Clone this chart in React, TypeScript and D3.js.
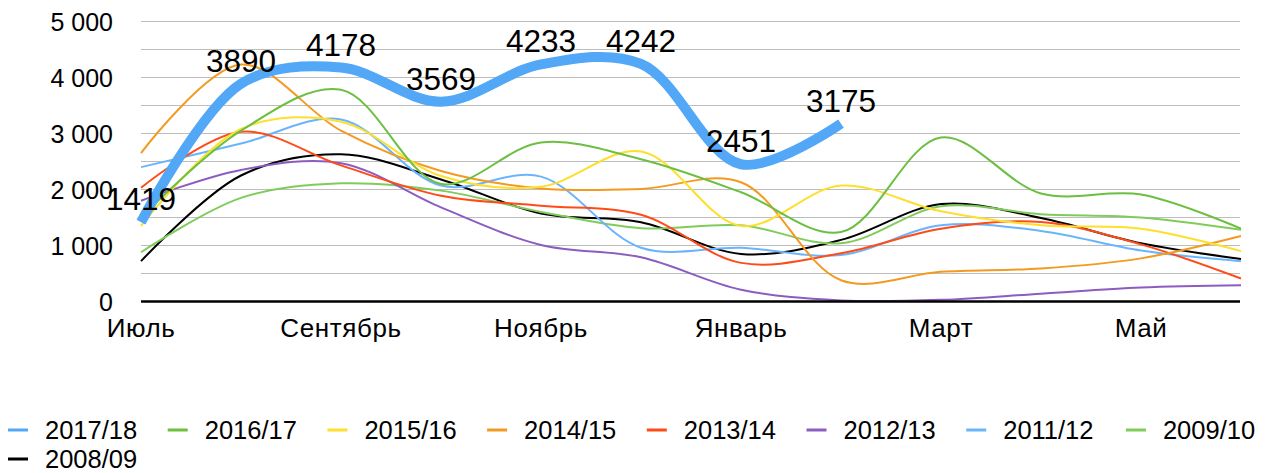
import React, { useEffect, useRef } from 'react';
import * as d3 from 'd3';

const months = ['Июль', 'Август', 'Сентябрь', 'Октябрь', 'Ноябрь', 'Декабрь', 'Январь', 'Февраль', 'Март', 'Апрель', 'Май', 'Июнь'];
const shownMonths = ['Июль', 'Сентябрь', 'Ноябрь', 'Январь', 'Март', 'Май'];
const yTicks = [0, 1000, 2000, 3000, 4000, 5000];
const gridValues = [500, 1000, 1500, 2000, 2500, 3000, 3500, 4000, 4500, 5000];

const seriesNames = ['2017/18', '2016/17', '2015/16', '2014/15', '2013/14', '2012/13', '2011/12', '2009/10', '2008/09'];
const seriesColors = ['#52a8f6', '#6cbf41', '#fddf2c', '#f39a22', '#ff4b18', '#8c5cc0', '#6ab4fd', '#80cc5a', '#000000'];

const v2017 = [1419, 3890, 4178, 3569, 4233, 4242, 2451, 3175];
const v2016 = [1500, 3050, 3780, 2100, 2840, 2540, 1950, 1240, 2930, 1930, 1910, 1300];
const v2015 = [1350, 3080, 3210, 2240, 2050, 2680, 1350, 2070, 1610, 1360, 1300, 900];
const v2014 = [2650, 4230, 3050, 2330, 2020, 2010, 2130, 380, 530, 590, 770, 1170];
const v2013 = [2030, 3030, 2430, 1890, 1710, 1550, 690, 860, 1300, 1420, 1020, 410];
const v2012 = [1800, 2350, 2470, 1680, 1010, 790, 210, 20, 30, 140, 250, 290];
const v2011 = [2400, 2820, 3250, 2070, 2230, 960, 960, 830, 1360, 1260, 910, 720];
const v2009 = [880, 1850, 2110, 1980, 1600, 1310, 1360, 1040, 1700, 1560, 1500, 1280];
const v2008 = [720, 2250, 2630, 2180, 1570, 1415, 850, 1100, 1740, 1490, 1040, 760];

const seriesValues = [v2017, v2016, v2015, v2014, v2013, v2012, v2011, v2009, v2008];

const W = 1271, H = 473;
const FONT = '"Liberation Sans", Arial, Helvetica, sans-serif';

const App = () => {
  const ref = useRef<SVGSVGElement>(null);

  useEffect(() => {
    const svg = d3.select(ref.current);
    svg.selectAll('*').remove();

    const x = d3.scalePoint<string>().domain(months).range([141, 1241]);
    const y = d3.scaleLinear().domain([0, 5000]).range([301.5, 21.5]);

    // gridlines
    svg.append('g')
      .selectAll('line')
      .data(gridValues)
      .join('line')
      .attr('x1', 141).attr('x2', 1240)
      .attr('y1', d => y(d)).attr('y2', d => y(d))
      .attr('stroke', '#bdbdbd')
      .attr('stroke-width', 1);

    // y labels
    const fmt = (d: number) => d3.format(',')(d).replace(/,/g, ' ');
    svg.append('g')
      .selectAll('text')
      .data(yTicks)
      .join('text')
      .attr('x', 113)
      .attr('y', d => y(d))
      .attr('text-anchor', 'end')
      .attr('dominant-baseline', 'central')
      .attr('font-family', FONT)
      .attr('font-size', 25)
      .attr('fill', '#000')
      .text(d => fmt(d));

    // x labels
    svg.append('g')
      .selectAll('text')
      .data(shownMonths)
      .join('text')
      .attr('x', d => x(d) as number)
      .attr('y', 337)
      .attr('text-anchor', 'middle')
      .attr('font-family', FONT)
      .attr('font-size', 26)
      .attr('letter-spacing', 0.6)
      .attr('fill', '#000')
      .text(d => d);

    // lines, oldest first so 2017/18 ends up on top
    const line = d3.line<number>()
      .x((_, i) => x(months[i]) as number)
      .y(d => y(d))
      .curve(d3.curveCatmullRom.alpha(0.5));

    const order = d3.range(seriesNames.length).reverse();
    svg.append('g')
      .selectAll('path')
      .data(order)
      .join('path')
      .attr('d', i => line(seriesValues[i]))
      .attr('fill', 'none')
      .attr('stroke', i => seriesColors[i])
      .attr('stroke-width', i => (i === 0 ? 10 : 2))
      .attr('stroke-linejoin', 'round');

    // baseline
    svg.append('line')
      .attr('x1', 141).attr('x2', 1240)
      .attr('y1', y(0)).attr('y2', y(0))
      .attr('stroke', '#000')
      .attr('stroke-width', 2.5);

    // data labels for 2017/18
    svg.append('g')
      .selectAll('text')
      .data(v2017)
      .join('text')
      .attr('x', (_, i) => x(months[i]) as number)
      .attr('y', d => y(d) - 23)
      .attr('text-anchor', 'middle')
      .attr('dominant-baseline', 'central')
      .attr('font-family', FONT)
      .attr('font-size', 31.5)
      .attr('fill', '#000')
      .text(d => d);

    // legend
    const legend = svg.append('g');
    const items = legend.selectAll('g')
      .data(seriesNames)
      .join('g')
      .attr('transform', (_, i) => `translate(${8 + (i % 8) * 159.7},${430 + Math.floor(i / 8) * 29})`);
    items.append('line')
      .attr('x1', 0).attr('x2', 20)
      .attr('y1', 0).attr('y2', 0)
      .attr('stroke', (_, i) => seriesColors[i])
      .attr('stroke-width', 3);
    items.append('text')
      .attr('x', 37)
      .attr('y', 0)
      .attr('dominant-baseline', 'central')
      .attr('font-family', FONT)
      .attr('font-size', 25.5)
      .attr('fill', '#000')
      .text(d => d);
  }, []);

  return (
    <svg
      ref={ref}
      width={W}
      height={H}
      style={{ position: 'absolute', left: 0, top: 0, background: '#fff' }}
    />
  );
};

export default App;
